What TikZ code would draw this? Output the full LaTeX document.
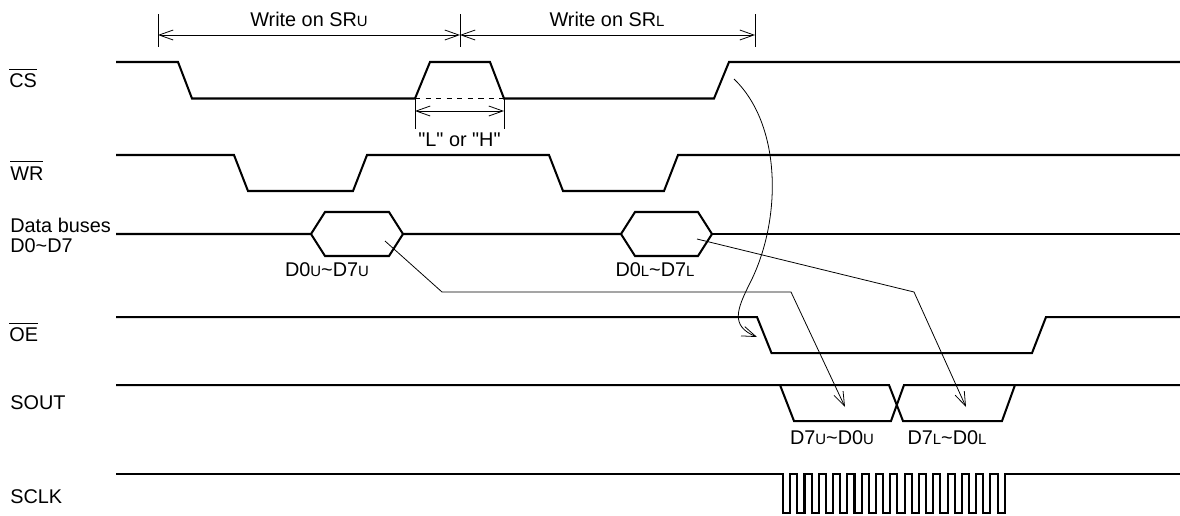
\documentclass[tikz,border=0pt]{standalone}
\usepackage{fontspec}
\newfontfamily\labelfont{Liberation Sans}
\usetikzlibrary{arrows.meta}
\newcommand{\subtag}[1]{{\fontsize{8.5pt}{8.5pt}\selectfont #1}}
\newcommand{\barred}[1]{$\overline{\mbox{\rule{0pt}{9.4pt}#1}}$}
\tikzset{
	signal/.style={line width=1.15pt,line join=miter},
	thinline/.style={line width=0.45pt},
	leader/.style={thinline,-{Straight Barb[length=8pt,width=5.7pt]}},
	dimline/.style={thinline,{Straight Barb[length=8pt,width=5.7pt]}-{Straight Barb[length=8pt,width=5.7pt]}},
	lbl/.style={inner sep=0pt,font=\labelfont\fontsize{11.3pt}{11.4pt}\selectfont},
	siglabel/.style={lbl,anchor=west,align=left}
}
\begin{document}
\begin{tikzpicture}[x=0.02cm,y=-0.02cm]
\useasboundingbox (0,0) rectangle (1180,515);
\draw[signal] (116,62) -- (178,62) -- (192,98.5) -- (415,98.5) -- (430,62) -- (490,62) -- (504,98.5) -- (714,98.5) -- (729,62) -- (1180,62);
\draw[signal] (116,155) -- (234,155) -- (248,191) -- (353,191) -- (367,155) -- (549,155) -- (563,191) -- (664,191) -- (678,155) -- (1180,155);
\draw[signal] (116,234) -- (311,234) -- (325,212) -- (389,212) -- (403,234) -- (389,256) -- (325,256) -- (311,234);
\draw[signal] (403,234) -- (621,234) -- (635,212) -- (698,212) -- (712,234) -- (698,256) -- (635,256) -- (621,234);
\draw[signal] (712,234) -- (1180,234);
\draw[signal] (116,317) -- (757,317) -- (771.5,353) -- (1032,353) -- (1046,317) -- (1180,317);
\draw[signal] (116,385) -- (780,385) -- (794,421) -- (891,421) -- (904,385) -- (1015,385) -- (1180,385);
\draw[signal] (780,385) -- (889,385) -- (903,421) -- (1002,421) -- (1015,385);
\draw[signal] (116,474) -- (783,474)
	\foreach \i in {0,...,14} { -- ++(0,38.5) -- ++(7.2,0) -- ++(0,-38.5) -- ++(7.1,0) }
	-- ++(0,38.5) -- ++(7.2,0) -- ++(0,-38.5) -- (1180,474);

\draw[thinline,dashed] (415,98.5) -- (504,98.5);

\coordinate (dimA) at (158,35);
\coordinate (dimB) at (460,35);
\coordinate (dimC) at (755,35);
\coordinate (dimD) at (415,111);
\coordinate (dimE) at (504,111);
\draw[thinline] (158,14) -- (158,47);
\draw[thinline] (460,14) -- (460,47);
\draw[thinline] (755,14) -- (755,47);
\draw[thinline] (415,98.5) -- (415,129);
\draw[thinline] (504,98.5) -- (504,129);
\draw[dimline] (dimA) -- (dimB);
\draw[dimline] (dimB) -- (dimC);
\draw[dimline] (dimD) -- (dimE);

\coordinate (csrise) at (734,79);
\coordinate (oefall) at (757,337);
\coordinate (busU) at (385,241);
\coordinate (busL) at (697,239);
\coordinate (soutU) at (845,407);
\coordinate (soutL) at (966,407);
\draw[leader] (csrise) .. controls (782,125) and (782,220) .. (750,283) .. controls (737,309) and (730,326) .. (oefall);
\draw[leader] (busU) -- (442,292) -- (791,292) -- (soutU);
\draw[leader] (busL) -- (914,292) -- (soutL);

\node[lbl] (wru) at (309,19) {Write on SR\subtag{U}};
\node[lbl] (wrl) at (607,19) {Write on SR\subtag{L}};
\node[lbl] (lorh) at (459.5,140) {"L" or "H"};
\node[lbl] (du) at (327,270) {D0\subtag{U}\char`~D7\subtag{U}};
\node[lbl] (dl) at (655,270) {D0\subtag{L}\char`~D7\subtag{L}};
\node[lbl] (qu) at (832,438) {D7\subtag{U}\char`~D0\subtag{U}};
\node[lbl] (ql) at (947,438) {D7\subtag{L}\char`~D0\subtag{L}};

\node[siglabel] (cs) at (9,78) {\barred{CS}};
\node[siglabel] (wr) at (10,170) {\barred{WR}};
\node[siglabel] (bus) at (10,235) {Data buses\\D0\char`~D7};
\node[siglabel] (oe) at (9,332) {\barred{OE}};
\node[siglabel] (sout) at (10,403) {SOUT};
\node[siglabel] (sclk) at (10,497) {SCLK};
\end{tikzpicture}
\end{document}
